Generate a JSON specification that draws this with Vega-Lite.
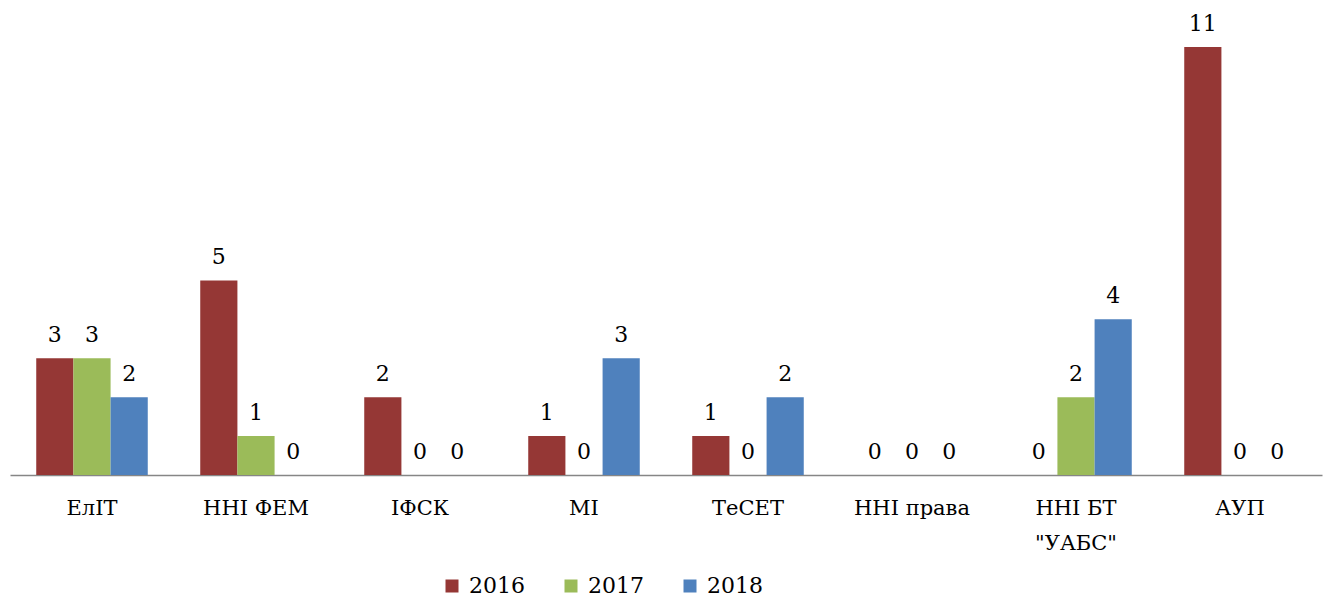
{
  "$schema": "https://vega.github.io/schema/vega-lite/v6.json",
  "width": 1312,
  "height": 467,
  "autosize": {"type": "none"},
  "padding": {"left": 10, "top": 8, "right": 11, "bottom": 125},
  "background": "white",
  "config": {"view": {"stroke": null}, "font": "DejaVu Serif"},
  "data": {
    "values": [
      {"cat": "ЕлІТ", "year": "2016", "v": 3},
      {"cat": "ЕлІТ", "year": "2017", "v": 3},
      {"cat": "ЕлІТ", "year": "2018", "v": 2},
      {"cat": "ННІ ФЕМ", "year": "2016", "v": 5},
      {"cat": "ННІ ФЕМ", "year": "2017", "v": 1},
      {"cat": "ННІ ФЕМ", "year": "2018", "v": 0},
      {"cat": "ІФСК", "year": "2016", "v": 2},
      {"cat": "ІФСК", "year": "2017", "v": 0},
      {"cat": "ІФСК", "year": "2018", "v": 0},
      {"cat": "МІ", "year": "2016", "v": 1},
      {"cat": "МІ", "year": "2017", "v": 0},
      {"cat": "МІ", "year": "2018", "v": 3},
      {"cat": "ТеСЕТ", "year": "2016", "v": 1},
      {"cat": "ТеСЕТ", "year": "2017", "v": 0},
      {"cat": "ТеСЕТ", "year": "2018", "v": 2},
      {"cat": "ННІ права", "year": "2016", "v": 0},
      {"cat": "ННІ права", "year": "2017", "v": 0},
      {"cat": "ННІ права", "year": "2018", "v": 0},
      {"cat": "ННІ БТ|\"УАБС\"", "year": "2016", "v": 0},
      {"cat": "ННІ БТ|\"УАБС\"", "year": "2017", "v": 2},
      {"cat": "ННІ БТ|\"УАБС\"", "year": "2018", "v": 4},
      {"cat": "АУП", "year": "2016", "v": 11},
      {"cat": "АУП", "year": "2017", "v": 0},
      {"cat": "АУП", "year": "2018", "v": 0}
    ]
  },
  "encoding": {
    "x": {
      "field": "cat",
      "type": "nominal",
      "sort": null,
      "title": null,
      "scale": {"paddingInner": 0.32, "paddingOuter": 0.16},
      "axis": {
        "labelAngle": 0,
        "ticks": false,
        "domainColor": "#868686",
        "domainWidth": 1.3,
        "labelFont": "DejaVu Serif",
        "labelFontSize": 21,
        "labelColor": "#000000",
        "labelBaseline": "middle",
        "labelPadding": 33,
        "labelLineHeight": 35,
        "labelExpr": "split(datum.label, '|')"
      }
    },
    "xOffset": {"field": "year", "type": "nominal", "scale": {"paddingInner": 0, "paddingOuter": 0}},
    "y": {
      "field": "v",
      "type": "quantitative",
      "scale": {"domain": [0, 12], "nice": false},
      "axis": null
    }
  },
  "layer": [
    {
      "mark": {"type": "bar"},
      "encoding": {
        "color": {
          "field": "year",
          "type": "nominal",
          "title": null,
          "scale": {"domain": ["2016", "2017", "2018"], "range": ["#953735", "#9BBB59", "#4F81BD"]},
          "legend": {
            "orient": "none",
            "direction": "horizontal",
            "legendX": 431,
            "legendY": 567,
            "symbolType": "square",
            "symbolSize": 169,
            "symbolStrokeWidth": 0,
            "labelFont": "DejaVu Serif",
            "labelFontSize": 22,
            "labelColor": "#000000",
            "labelOffset": 6,
            "columnPadding": 35
          }
        }
      }
    },
    {
      "mark": {"type": "text", "baseline": "alphabetic", "dy": -16, "font": "DejaVu Serif", "fontSize": 22, "color": "#000000"},
      "encoding": {"text": {"field": "v", "type": "quantitative"}}
    }
  ]
}
